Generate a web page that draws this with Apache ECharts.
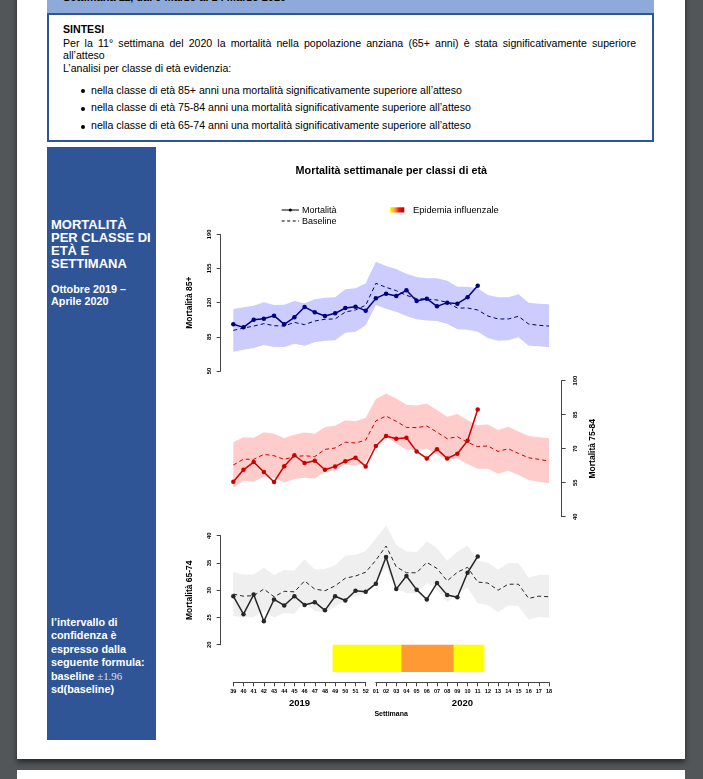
<!DOCTYPE html>
<html><head><meta charset="utf-8">
<script src="https://cdn.jsdelivr.net/npm/echarts@6/dist/echarts.min.js"></script>
<style>
html,body{margin:0;padding:0;}
body{width:703px;height:779px;background:#525659;position:relative;overflow:hidden;font-family:"Liberation Sans",Arial,sans-serif;}
.page{position:absolute;left:17px;top:-20px;width:668px;height:779px;background:#fff;box-shadow:0 3px 5px rgba(0,0,0,0.55);}
.page2{position:absolute;left:17px;top:770px;width:668px;height:40px;background:#fff;}
.band{position:absolute;left:47px;top:0;width:607px;height:14px;background:#8eaadb;overflow:hidden;}
.band span{position:absolute;left:16px;top:-9px;font-weight:bold;font-size:11px;color:#000;white-space:nowrap;}
.box{position:absolute;left:47px;top:13px;width:603px;height:125px;border:2px solid #2f5597;background:#fff;}
.t{position:absolute;font-family:"Liberation Sans",Arial,sans-serif;font-size:11.5px;color:#000;white-space:nowrap;line-height:13px;transform:scaleX(0.92);transform-origin:0 0;}
.j{white-space:normal;text-align:justify;text-align-last:justify;}
.dot{position:absolute;width:4px;height:4px;border-radius:50%;background:#000;}
.side{position:absolute;left:47px;top:147px;width:109px;height:593px;background:#2f5597;}
.s{position:absolute;left:4px;color:#fff;font-weight:bold;white-space:nowrap;font-family:"Liberation Sans",Arial,sans-serif;}
#c{position:absolute;left:0;top:0;width:703px;height:779px;z-index:5;}
</style></head>
<body>
<div class="page"></div>
<div class="page2"></div>
<div class="band"><span>Settimana 11, dal 9 Marzo al 14 Marzo 2020</span></div>
<div class="box"></div>
<div class="t" style="left:63px;top:23px;font-weight:bold;">SINTESI</div>
<div class="t j" style="left:63px;top:37px;width:623px;">Per la 11° settimana del 2020 la mortalità nella popolazione anziana (65+ anni) è stata significativamente superiore</div>
<div class="t" style="left:63px;top:49px;">all’atteso</div>
<div class="t" style="left:63px;top:62px;">L’analisi per classe di età evidenzia:</div>
<div class="dot" style="left:81px;top:89px;"></div>
<div class="t" style="left:91px;top:84px;">nella classe di età 85+ anni una mortalità significativamente superiore all’atteso</div>
<div class="dot" style="left:81px;top:107px;"></div>
<div class="t" style="left:91px;top:101px;">nella classe di età 75-84 anni una mortalità significativamente superiore all’atteso</div>
<div class="dot" style="left:81px;top:125px;"></div>
<div class="t" style="left:91px;top:119px;">nella classe di età 65-74 anni una mortalità significativamente superiore all’atteso</div>

<div class="side">
  <div class="s" style="top:72px;font-size:13px;line-height:12.9px;">MORTALITÀ<br>PER CLASSE DI<br>ETÀ E<br>SETTIMANA</div>
  <div class="s" style="top:137px;font-size:10.8px;line-height:11.5px;">Ottobre 2019 –<br>Aprile 2020</div>
  <div class="s" style="top:469px;font-size:10.8px;line-height:13.4px;">l’intervallo di<br>confidenza è<br>espresso dalla<br>seguente formula:<br>baseline <span style="font-family:'Liberation Serif',serif;font-weight:normal;color:#dfe3ec;">±1.96</span><br>sd(baseline)</div>
</div>

<div id="c"></div>
<script>
// ---------------- data ----------------
const weeks = ['39','40','41','42','43','44','45','46','47','48','49','50','51','52',
               '01','02','03','04','05','06','07','08','09','10','11','12','13','14','15','16','17','18'];
const years = ['2019','2020'];
const lastWeek2019 = '52';

// 85+
const mort85 = [97.8,94.7,102.6,103.6,106.7,97.8,105,115.6,110.1,106.3,109.1,114.5,115.9,111.8,
                124.4,129.2,126.8,132.6,121.7,124.1,116.2,120,119,125.5,137.4];
const base85 = [91.6,94,96,98.5,96.4,96,99.8,97.5,101.2,103,103.3,110.4,112.5,117.3,
                139.8,135.7,132.3,127.5,124.1,123.7,122.7,120.3,114.5,114.5,112.5,106.3,103.3,103.3,106,98.1,96.8,96];
const up85 = [113.5,115.2,116.9,120.3,117.6,117.9,121.7,119.3,123.4,125.1,125.5,133.7,134.7,139.8,
              162,157.5,154.5,149.7,146.3,144.9,144.9,142.5,136.4,136.4,134.7,127.8,125.5,125.5,128.5,120,119,118.3];
const lo85 = [69.8,71.8,73.6,76.6,74.6,74.6,78,75.9,79.4,81.1,81.4,89.3,90.3,96.8,
              117.6,113.8,110.8,106.3,102.9,101.6,101.2,98.5,92.7,92.3,90.3,83.8,81.1,81.4,84.5,75.9,75.3,74.2];
const ticks85 = [50,85,120,155,190];

// 75-84
const mort75 = [55.4,60.7,64.1,59.7,55.3,62.3,67.1,63.7,64.7,60.7,62.2,64.5,66,62.2,
                71.2,75.6,74.4,74.8,68.8,65.7,69.8,65.7,67.8,73.5,87.3];
const base75 = [62.8,65.4,65.3,67.5,66.9,65.3,66.5,66.9,66.5,69.7,70.3,72.9,72.5,73.8,
                82.3,84.4,82.1,79.4,79.3,80,77.3,74.4,75.3,72.8,70.9,71.2,68.8,70,67.9,66,65.3,64.5];
const up75 = [72.8,75.1,74.8,77.3,76.6,74.7,76.2,77.1,76.6,79.6,80.1,82.6,82.1,83.7,
              91.9,94.4,92.1,89.4,89.1,89.9,87.1,84.1,85.3,82.6,80.4,80.7,78.2,79.7,77.6,75.6,75,74.6];
const lo75 = [52.8,55.9,55.4,57.6,57.2,55.1,56.6,57.2,56.8,59.8,60.4,63.1,62.5,64.1,
              72.6,75,72.3,69.5,69.4,70.1,67.3,65,65.7,63.2,61.2,61.2,59,60.3,58.4,56.2,55.4,54.8];
const ticks75 = [40,55,70,85,100];

// 65-74
const mort65 = [28.9,25.6,29.2,24.3,28.3,27.2,28.9,27.3,27.8,26.3,28.9,28.1,29.9,29.7,
                31.2,36.1,30.2,32.6,30.1,28.3,31.3,29.1,28.7,33.2,36.2];
const base65 = [29.3,28.9,29,30.2,28.8,29.8,29.7,31.7,30.2,29.9,30.8,32.2,32.6,33.3,
                35.5,38.1,34.3,33.2,33.2,35.1,34,31.7,33.3,34.2,31.5,31.3,30,31.1,31.1,28.5,28.9,28.8];
const up65 = [33.3,32.9,32.9,34.1,32.8,33.7,33.6,35.7,33.8,33.9,34.6,36.3,36.5,37.2,
              39.5,41.9,38.3,37.1,37,39,37.7,35.4,37.1,38.2,35.4,35.1,33.8,35,35,32.3,32.8,32.8];
const lo65 = [25.3,25,25.1,26.2,25,25.8,25.7,27.9,26.2,26,26.9,28.3,28.8,29.4,
              31.7,34.1,30.3,29.5,29.4,31.3,30.2,27.8,29.3,30.5,27.6,27.3,26,27.2,27.1,24.6,25.1,25];
const ticks65 = [20,25,30,35,40];

// influenza epidemic periods (in week-index units) and intensity
const epiFrom  = [9.75, 16.5, 21.65];
const epiTo    = [16.5, 21.65, 24.65];
const epiLevel = ['bassa','media','bassa'];

// ---------------- layout / style ----------------
const PX0 = 233.3, PDX = 10.184;
const XMIN = -1.24, XMAX = weeks.length - 1 + 1.24;
const GL = PX0 + XMIN * PDX, GW = (XMAX - XMIN) * PDX;
const split = weeks.indexOf(lastWeek2019);
const EPI_Y = [15, 20];
const epiColor = {bassa:'#ffff00', media:'#ff9933'};
const FONT = '"Liberation Sans", Arial, sans-serif';

const panels = [
  {m:mort85,b:base85,u:up85,l:lo85,ticks:ticks85,name:'Mortalità 85+',pos:'left',top:234.3,h:136.7,band:'#ccccff',line:'#000080'},
  {m:mort75,b:base75,u:up75,l:lo75,ticks:ticks75,name:'Mortalità 75-84',pos:'right',top:380.7,h:136,band:'#ffcccc',line:'#cd0000'},
  {m:mort65,b:base65,u:up65,l:lo65,ticks:ticks65,name:'Mortalità 65-74',pos:'left',top:535.7,h:109,band:'#efefef',line:'#262626'}
];

const grid = [], xAxis = [], yAxis = [], series = [];
panels.forEach((p, k) => {
  grid.push({left:GL, width:GW, top:p.top, height:p.h});
  xAxis.push({type:'value', gridIndex:k, min:XMIN, max:XMAX, show:k===2,
    axisLine:{show:false, onZero:false}, axisTick:{show:false}, axisLabel:{show:false}, splitLine:{show:false},
    name: k===2 ? 'Settimana' : '', nameLocation:'middle', nameGap:66,
    nameTextStyle:{fontFamily:FONT, fontWeight:'bold', fontSize:7, color:'#000'}});
  yAxis.push({type:'value', gridIndex:k, position:p.pos, min:p.ticks[0], max:p.ticks[p.ticks.length-1],
    splitLine:{show:false},
    axisLine:{show:true, onZero:false, lineStyle:{color:'#444', width:1}},
    axisTick:{show:true, length:4, customValues:p.ticks, lineStyle:{color:'#444'}},
    axisLabel:{customValues:p.ticks, rotate:90, margin: p.pos==='left'?8:11, fontSize:5.8, fontWeight:'bold', color:'#000', fontFamily:FONT},
    name:p.name, nameLocation:'middle', nameRotate:90, nameGap: 27,
    nameTextStyle:{fontFamily:FONT, fontWeight:'bold', fontSize:8.5, color:'#000'}});
  series.push({
    type:'custom', xAxisIndex:k, yAxisIndex:k, silent:true, z:1,
    data:[[0, p.u[0]]],
    renderItem:(params, api) => {
      const pts = [];
      p.u.forEach((v,i) => pts.push(api.coord([i, v])));
      for (let i = p.l.length - 1; i >= 0; i--) pts.push(api.coord([i, p.l[i]]));
      return {type:'polygon', shape:{points:pts}, style:{fill:p.band}};
    }
  });
  series.push({type:'line', xAxisIndex:k, yAxisIndex:k, clip:false, silent:true, z:3,
    data:p.b.map((v,i)=>[i,v]), symbol:'none',
    lineStyle:{color:p.line, width:1, type:[4,3]}});
  series.push({type:'line', xAxisIndex:k, yAxisIndex:k, clip:false, silent:true, z:4,
    data:p.m.map((v,i)=>[i,v]), symbol:'circle', symbolSize:4.5,
    itemStyle:{color:p.line}, lineStyle:{color:p.line, width:1.5}});
});

// epidemic bar in the 65-74 panel coordinates
series.push({type:'custom', xAxisIndex:2, yAxisIndex:2, silent:true, z:2,
  data: epiFrom.map((f,i)=>[f, epiTo[i], i]),
  renderItem:(params, api) => {
    const a = api.coord([api.value(0), EPI_Y[1]]);
    const b = api.coord([api.value(1), EPI_Y[0]]);
    return {type:'rect', shape:{x:a[0], y:a[1], width:b[0]-a[0], height:b[1]-a[1]},
      style:{fill:epiColor[epiLevel[api.value(2)]]}};
  }
});

// week axis, split in two segments (2019 / 2020)
[[0, split], [split+1, weeks.length-1]].forEach((seg, j) => {
  const gi = 3 + j;
  grid.push({left:PX0 + seg[0]*PDX, width:(seg[1]-seg[0])*PDX, top:660, height:22.3});
  xAxis.push({type:'value', gridIndex:gi, min:seg[0], max:seg[1], interval:1, position:'bottom',
    axisLine:{show:true, onZero:false, lineStyle:{color:'#444', width:1}},
    axisTick:{show:true, length:4, lineStyle:{color:'#444'}},
    axisLabel:{formatter:v=>weeks[Math.round(v)], fontSize:5.5, fontWeight:'bold', color:'#000', margin:6, fontFamily:FONT, showMinLabel:true, showMaxLabel:true},
    splitLine:{show:false},
    name:years[j], nameLocation:'middle', nameGap:16,
    nameTextStyle:{fontFamily:FONT, fontWeight:'bold', fontSize:9.5, color:'#000'}});
  yAxis.push({type:'value', gridIndex:gi, show:false});
});

const option = {
  animation:false,
  backgroundColor:'transparent',
  grid, xAxis, yAxis, series,
  graphic:[
    {type:'text', x:391.3, y:170.7, style:{text:'Mortalità settimanale per classi di età', fontFamily:FONT, fontWeight:'bold', fontSize:10.8, fill:'#000', align:'center', verticalAlign:'middle'}},
    {type:'line', shape:{x1:281.7,y1:210,x2:299,y2:210}, style:{stroke:'#000', lineWidth:1}},
    {type:'circle', shape:{cx:290.3, cy:210, r:1.6}, style:{fill:'#000'}},
    {type:'text', x:302, y:210.3, style:{text:'Mortalità', fontFamily:FONT, fontSize:9, fill:'#000', verticalAlign:'middle'}},
    {type:'line', shape:{x1:281.7,y1:221,x2:299,y2:221}, style:{stroke:'#000', lineWidth:1, lineDash:[3,2.5]}},
    {type:'text', x:302, y:221.3, style:{text:'Baseline', fontFamily:FONT, fontSize:9, fill:'#000', verticalAlign:'middle'}},
    {type:'rect', shape:{x:390, y:207.3, width:14.3, height:5.2},
      style:{fill:new echarts.graphic.LinearGradient(0,0,1,0,[{offset:0,color:'#ffff00'},{offset:0.35,color:'#ff9933'},{offset:0.65,color:'#ee1111'},{offset:1,color:'#bb0000'}])}},
    {type:'text', x:413, y:210.3, style:{text:'Epidemia influenzale', fontFamily:FONT, fontSize:9.3, fill:'#000', verticalAlign:'middle'}}
  ]
};
const chart = echarts.init(document.getElementById('c'));
chart.setOption(option);
</script>
</body></html>
